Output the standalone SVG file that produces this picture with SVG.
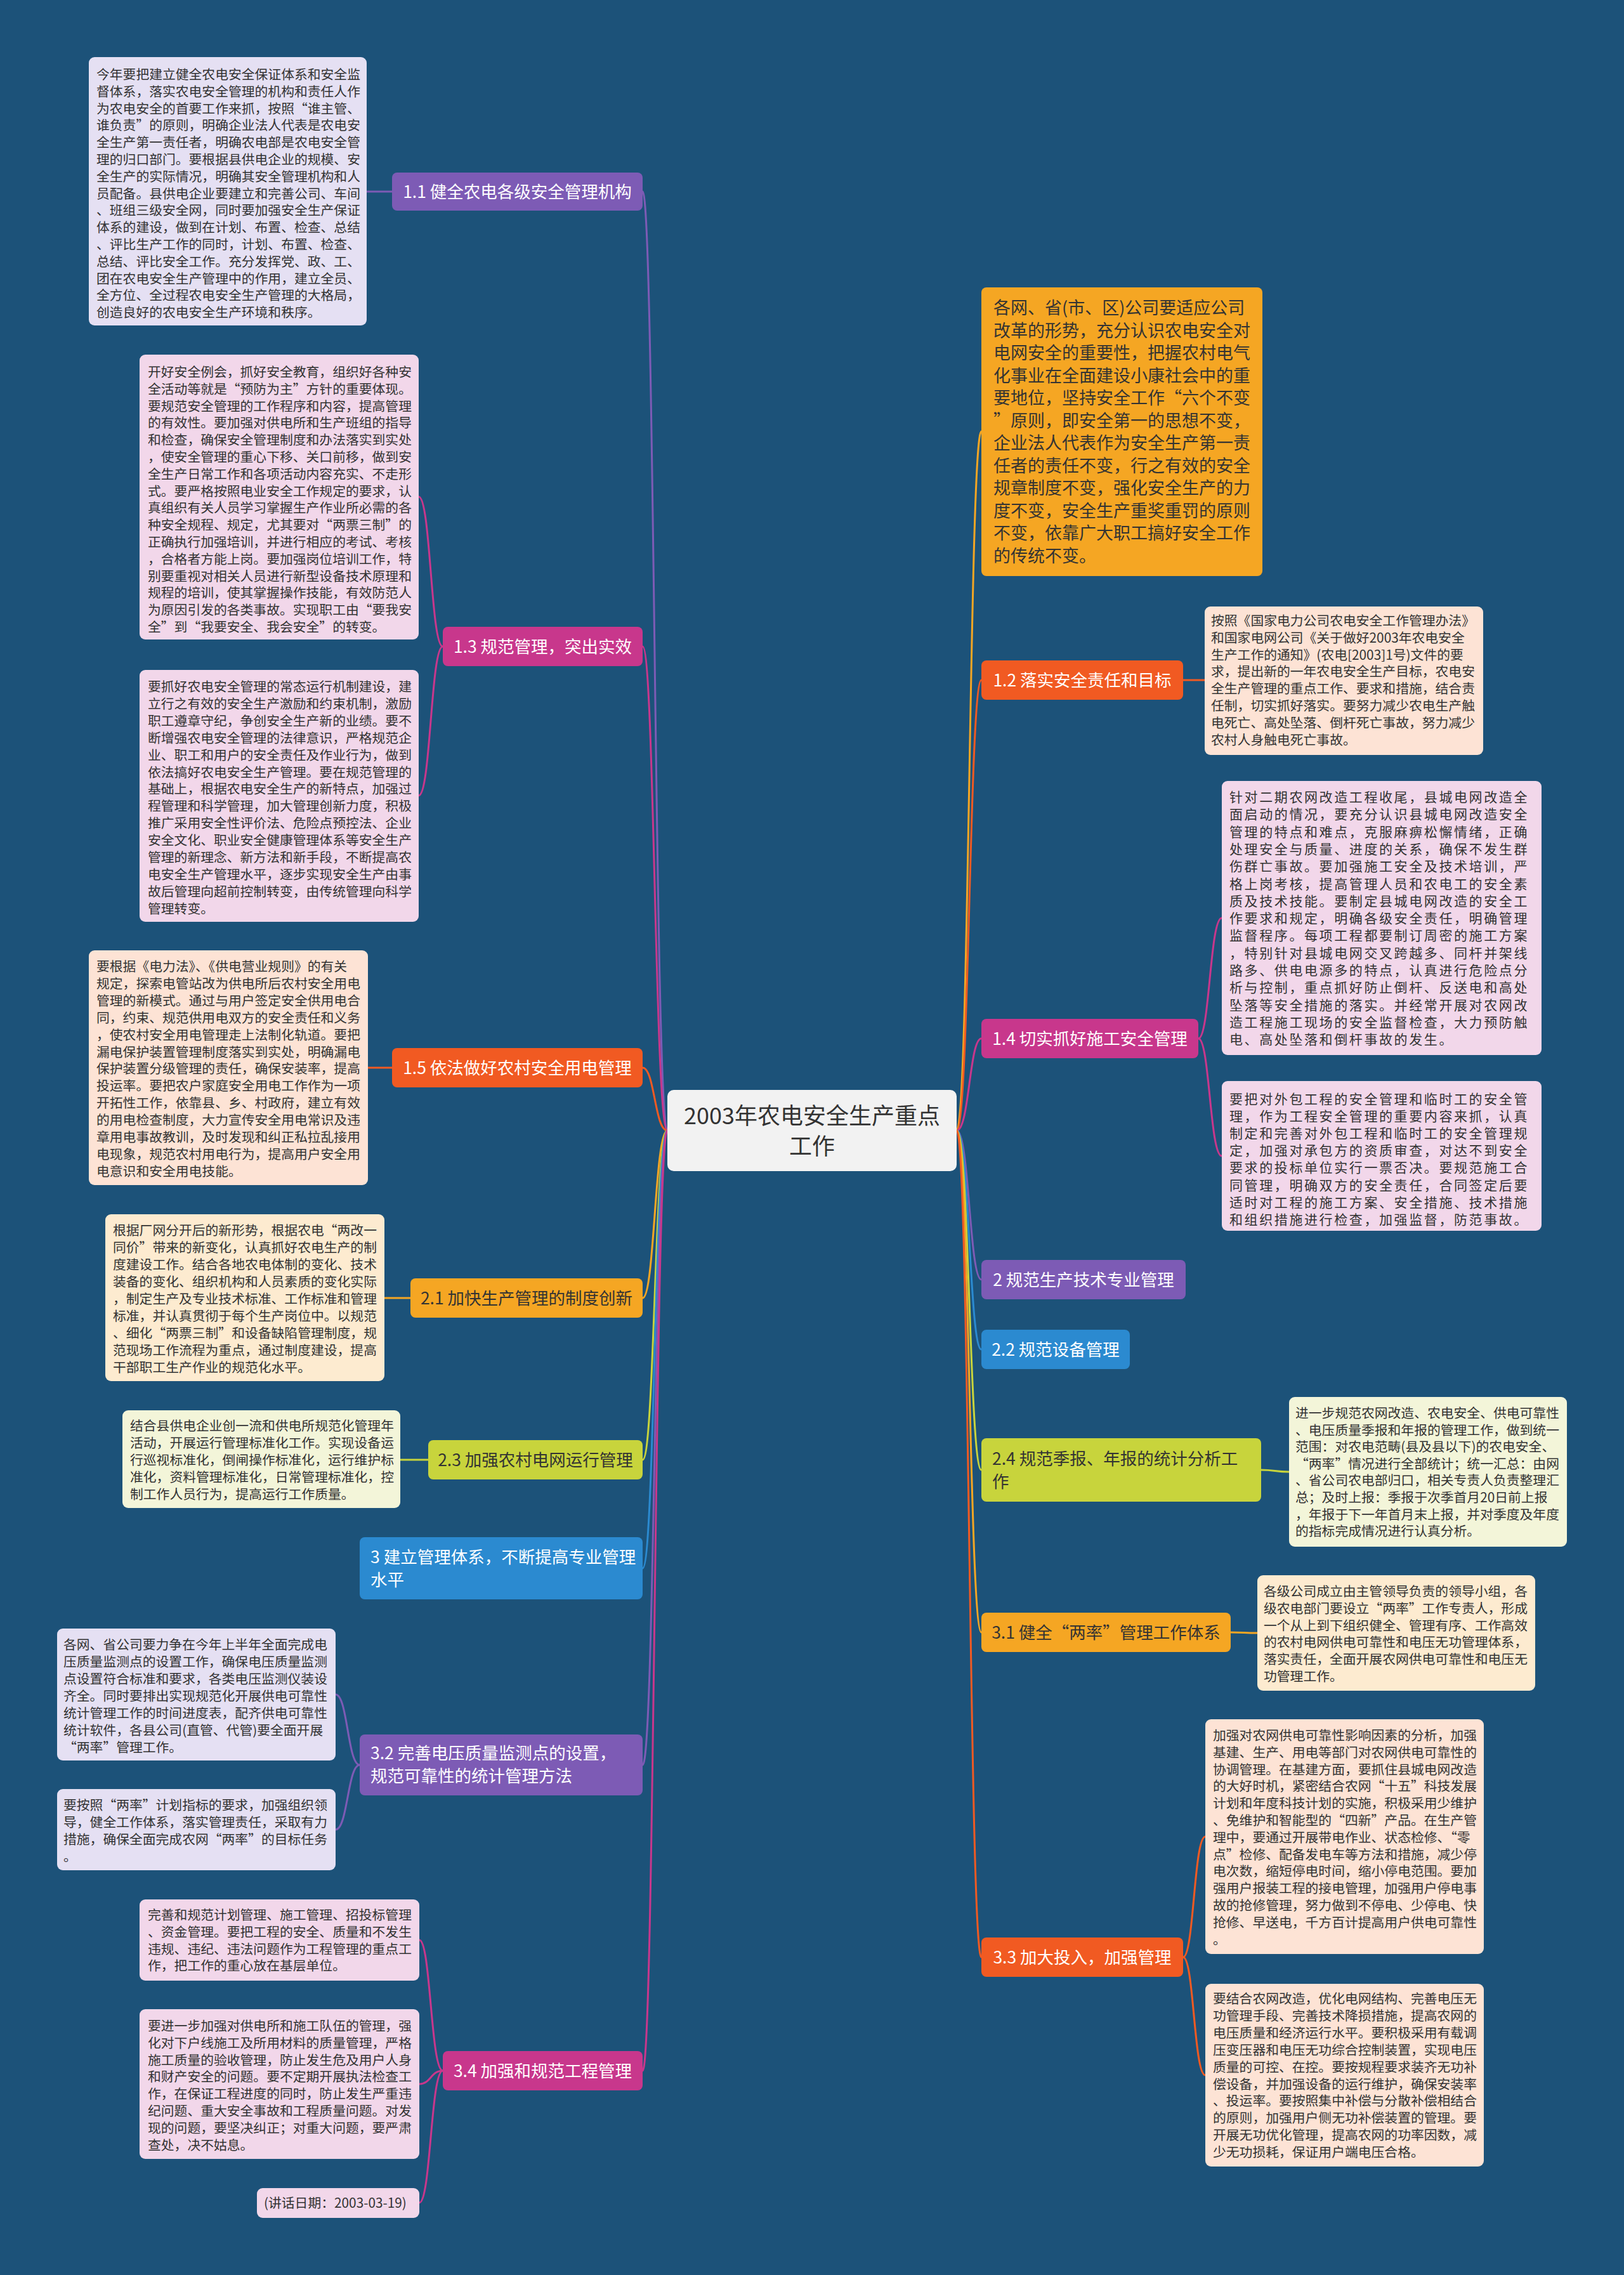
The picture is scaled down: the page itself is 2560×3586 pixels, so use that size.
<svg xmlns="http://www.w3.org/2000/svg" width="2560" height="3586" viewBox="0 0 2560 3586">
<style>
text{font-family:"Noto Sans CJK SC","Noto Sans",sans-serif}
.leaf{font-size:20.8px;fill:#333333}
.wide{font-size:21px;letter-spacing:2.6px;fill:#333333}
.big{font-size:27px;fill:#333333}
.nt{font-size:26.5px;fill:#ffffff}
.nd{font-size:26.5px;fill:#333333}
.c{stroke-width:3;fill:none}
</style>
<rect x="0" y="0" width="2560" height="3586" fill="#1c5279"/>

<g id="connectors">
<path class="c" stroke="#7d5bb5" d="M1052,1782 C1032,1782 1032,302 1013,302"/>
<path class="c" stroke="#c8378c" d="M1052,1782 C1032,1782 1032,1019 1013,1019"/>
<path class="c" stroke="#f15a22" d="M1052,1782 C1032,1782 1032,1683 1013,1683"/>
<path class="c" stroke="#f5a623" d="M1052,1782 C1032,1782 1032,2046 1013,2046"/>
<path class="c" stroke="#c8d43c" d="M1052,1782 C1032,1782 1032,2301 1013,2301"/>
<path class="c" stroke="#2b8ad0" d="M1052,1782 C1032,1782 1032,2472 1013,2472"/>
<path class="c" stroke="#7d5bb5" d="M1052,1782 C1032,1782 1032,2782 1013,2782"/>
<path class="c" stroke="#c8378c" d="M1052,1782 C1032,1782 1032,3264 1013,3264"/>
<path class="c" stroke="#f5a623" d="M1508,1782 C1528,1782 1528,680 1547,680"/>
<path class="c" stroke="#f15a22" d="M1508,1782 C1528,1782 1528,1072 1547,1072"/>
<path class="c" stroke="#c8378c" d="M1508,1782 C1528,1782 1528,1637 1547,1637"/>
<path class="c" stroke="#7d5bb5" d="M1508,1782 C1528,1782 1528,2017 1547,2017"/>
<path class="c" stroke="#2b8ad0" d="M1508,1782 C1528,1782 1528,2127 1547,2127"/>
<path class="c" stroke="#c8d43c" d="M1508,1782 C1528,1782 1528,2317 1547,2317"/>
<path class="c" stroke="#f5a623" d="M1508,1782 C1528,1782 1528,2573 1547,2573"/>
<path class="c" stroke="#f15a22" d="M1508,1782 C1528,1782 1528,3085 1547,3085"/>

<path class="c" stroke="#7d5bb5" d="M618,302 L578,302"/>
<path class="c" stroke="#c8378c" d="M698,1019 C679,1019 679,783 660,783"/>
<path class="c" stroke="#c8378c" d="M698,1019 C679,1019 679,1254 660,1254"/>
<path class="c" stroke="#f15a22" d="M618,1683 L580,1683"/>
<path class="c" stroke="#f5a623" d="M647,2046 L606,2046"/>
<path class="c" stroke="#c8d43c" d="M675,2301 L631,2301"/>
<path class="c" stroke="#7d5bb5" d="M567,2782 C548,2782 548,2671 529,2671"/>
<path class="c" stroke="#7d5bb5" d="M567,2782 C548,2782 548,2884 529,2884"/>
<path class="c" stroke="#c8378c" d="M698,3264 C679,3264 679,3058 661,3058"/>
<path class="c" stroke="#c8378c" d="M698,3264 C679,3264 679,3285 661,3285"/>
<path class="c" stroke="#c8378c" d="M698,3264 C679,3264 679,3472 661,3472"/>

<path class="c" stroke="#f15a22" d="M1865,1072 L1899,1072"/>
<path class="c" stroke="#c8378c" d="M1889,1637 C1907,1637 1907,1447 1926,1447"/>
<path class="c" stroke="#c8378c" d="M1889,1637 C1907,1637 1907,1822 1926,1822"/>
<path class="c" stroke="#c8d43c" d="M1988,2317 C2010,2317 2010,2320 2032,2320"/>
<path class="c" stroke="#f5a623" d="M1940,2573 C1961,2573 1961,2574 1982,2574"/>
<path class="c" stroke="#f15a22" d="M1865,3085 C1882,3085 1882,2895 1900,2895"/>
<path class="c" stroke="#f15a22" d="M1865,3085 C1882,3085 1882,3271 1900,3271"/>
</g>

<g id="center">
<rect x="1052" y="1718" width="456" height="128" rx="10" fill="#f2f2f2"/>
<text x="1280" y="1772" font-size="36" fill="#333333" text-anchor="middle">2003年农电安全生产重点</text>
<text x="1280" y="1820" font-size="36" fill="#333333" text-anchor="middle">工作</text>
</g>

<g id="n1_1"><rect x="618" y="272" width="395" height="60" rx="8" fill="#7d5bb5"/><text class="nt" x="815.5" y="311.5" text-anchor="middle">1.1 健全农电各级安全管理机构</text></g>
<g id="n1_3"><rect x="698" y="988" width="315" height="62" rx="8" fill="#c8378c"/><text class="nt" x="855.5" y="1028.5" text-anchor="middle">1.3 规范管理，突出实效</text></g>
<g id="n1_5"><rect x="618" y="1652" width="395" height="62" rx="8" fill="#f15a22"/><text class="nt" x="815.5" y="1692.5" text-anchor="middle">1.5 依法做好农村安全用电管理</text></g>
<g id="n2_1"><rect x="647" y="2015" width="366" height="62" rx="8" fill="#f5a623"/><text class="nd" x="830" y="2055.5" text-anchor="middle">2.1 加快生产管理的制度创新</text></g>
<g id="n2_3"><rect x="675" y="2270" width="338" height="62" rx="8" fill="#c8d43c"/><text class="nd" x="844" y="2310.5" text-anchor="middle">2.3 加强农村电网运行管理</text></g>
<g id="n3"><rect x="567" y="2423" width="446" height="98" rx="8" fill="#2b8ad0"/><text class="nt" x="584" y="2463.5">3 建立管理体系，不断提高专业管理</text><text class="nt" x="584" y="2499.5">水平</text></g>
<g id="n3_2"><rect x="567" y="2734" width="446" height="96" rx="8" fill="#7d5bb5"/><text class="nt" x="584" y="2773">3.2 完善电压质量监测点的设置，</text><text class="nt" x="584" y="2809">规范可靠性的统计管理方法</text></g>
<g id="n3_4"><rect x="698" y="3233" width="315" height="62" rx="8" fill="#c8378c"/><text class="nt" x="855.5" y="3273.5" text-anchor="middle">3.4 加强和规范工程管理</text></g>

<g id="n_orange"><rect x="1547" y="453" width="443" height="455" rx="8" fill="#f5a623"/>
<text class="big" x="1566" y="495"><tspan x="1566">各网、省(市、区)公司要适应公司</tspan><tspan x="1566" dy="35.5">改革的形势，充分认识农电安全对</tspan><tspan x="1566" dy="35.5">电网安全的重要性，把握农村电气</tspan><tspan x="1566" dy="35.5">化事业在全面建设小康社会中的重</tspan><tspan x="1566" dy="35.5">要地位，坚持安全工作“六个不变</tspan><tspan x="1566" dy="35.5">”原则，即安全第一的思想不变，</tspan><tspan x="1566" dy="35.5">企业法人代表作为安全生产第一责</tspan><tspan x="1566" dy="35.5">任者的责任不变，行之有效的安全</tspan><tspan x="1566" dy="35.5">规章制度不变，强化安全生产的力</tspan><tspan x="1566" dy="35.5">度不变，安全生产重奖重罚的原则</tspan><tspan x="1566" dy="35.5">不变，依靠广大职工搞好安全工作</tspan><tspan x="1566" dy="35.5">的传统不变。</tspan></text></g>
<g id="n1_2"><rect x="1547" y="1041" width="318" height="62" rx="8" fill="#f15a22"/><text class="nt" x="1706" y="1081.5" text-anchor="middle">1.2 落实安全责任和目标</text></g>
<g id="n1_4"><rect x="1547" y="1606" width="342" height="62" rx="8" fill="#c8378c"/><text class="nt" x="1718" y="1646.5" text-anchor="middle">1.4 切实抓好施工安全管理</text></g>
<g id="n2"><rect x="1547" y="1986" width="322" height="62" rx="8" fill="#7d5bb5"/><text class="nt" x="1708" y="2026.5" text-anchor="middle">2 规范生产技术专业管理</text></g>
<g id="n2_2"><rect x="1547" y="2096" width="234" height="62" rx="8" fill="#2b8ad0"/><text class="nt" x="1664" y="2136.5" text-anchor="middle">2.2 规范设备管理</text></g>
<g id="n2_4"><rect x="1547" y="2267" width="441" height="100" rx="8" fill="#c8d43c"/><text class="nd" x="1564" y="2308.5">2.4 规范季报、年报的统计分析工</text><text class="nd" x="1564" y="2344.5">作</text></g>
<g id="n3_1"><rect x="1547" y="2542" width="393" height="62" rx="8" fill="#f5a623"/><text class="nd" x="1743.5" y="2582.5" text-anchor="middle">3.1 健全“两率”管理工作体系</text></g>
<g id="n3_3"><rect x="1547" y="3054" width="318" height="62" rx="8" fill="#f15a22"/><text class="nt" x="1706" y="3094.5" text-anchor="middle">3.3 加大投入，加强管理</text></g>

<g id="l1"><rect x="140" y="90" width="438" height="423" rx="9" fill="#e5e0f3"/>
<text class="leaf" x="152" y="125"><tspan x="152">今年要把建立健全农电安全保证体系和安全监</tspan><tspan x="152" dy="26.8">督体系，落实农电安全管理的机构和责任人作</tspan><tspan x="152" dy="26.8">为农电安全的首要工作来抓，按照“谁主管、</tspan><tspan x="152" dy="26.8">谁负责”的原则，明确企业法人代表是农电安</tspan><tspan x="152" dy="26.8">全生产第一责任者，明确农电部是农电安全管</tspan><tspan x="152" dy="26.8">理的归口部门。要根据县供电企业的规模、安</tspan><tspan x="152" dy="26.8">全生产的实际情况，明确其安全管理机构和人</tspan><tspan x="152" dy="26.8">员配备。县供电企业要建立和完善公司、车间</tspan><tspan x="152" dy="26.8">、班组三级安全网，同时要加强安全生产保证</tspan><tspan x="152" dy="26.8">体系的建设，做到在计划、布置、检查、总结</tspan><tspan x="152" dy="26.8">、评比生产工作的同时，计划、布置、检查、</tspan><tspan x="152" dy="26.8">总结、评比安全工作。充分发挥党、政、工、</tspan><tspan x="152" dy="26.8">团在农电安全生产管理中的作用，建立全员、</tspan><tspan x="152" dy="26.8">全方位、全过程农电安全生产管理的大格局，</tspan><tspan x="152" dy="26.8">创造良好的农电安全生产环境和秩序。</tspan></text></g>

<g id="l2"><rect x="220" y="559" width="440" height="449" rx="9" fill="#f2d7ea"/>
<text class="leaf" x="233" y="594"><tspan x="233">开好安全例会，抓好安全教育，组织好各种安</tspan><tspan x="233" dy="26.8">全活动等就是“预防为主”方针的重要体现。</tspan><tspan x="233" dy="26.8">要规范安全管理的工作程序和内容，提高管理</tspan><tspan x="233" dy="26.8">的有效性。要加强对供电所和生产班组的指导</tspan><tspan x="233" dy="26.8">和检查，确保安全管理制度和办法落实到实处</tspan><tspan x="233" dy="26.8">，使安全管理的重心下移、关口前移，做到安</tspan><tspan x="233" dy="26.8">全生产日常工作和各项活动内容充实、不走形</tspan><tspan x="233" dy="26.8">式。要严格按照电业安全工作规定的要求，认</tspan><tspan x="233" dy="26.8">真组织有关人员学习掌握生产作业所必需的各</tspan><tspan x="233" dy="26.8">种安全规程、规定，尤其要对“两票三制”的</tspan><tspan x="233" dy="26.8">正确执行加强培训，并进行相应的考试、考核</tspan><tspan x="233" dy="26.8">，合格者方能上岗。要加强岗位培训工作，特</tspan><tspan x="233" dy="26.8">别要重视对相关人员进行新型设备技术原理和</tspan><tspan x="233" dy="26.8">规程的培训，使其掌握操作技能，有效防范人</tspan><tspan x="233" dy="26.8">为原因引发的各类事故。实现职工由“要我安</tspan><tspan x="233" dy="26.8">全”到“我要安全、我会安全”的转变。</tspan></text></g>

<g id="l3"><rect x="220" y="1056" width="440" height="397" rx="9" fill="#f2d7ea"/>
<text class="leaf" x="233" y="1090"><tspan x="233">要抓好农电安全管理的常态运行机制建设，建</tspan><tspan x="233" dy="26.9">立行之有效的安全生产激励和约束机制，激励</tspan><tspan x="233" dy="26.9">职工遵章守纪，争创安全生产新的业绩。要不</tspan><tspan x="233" dy="26.9">断增强农电安全管理的法律意识，严格规范企</tspan><tspan x="233" dy="26.9">业、职工和用户的安全责任及作业行为，做到</tspan><tspan x="233" dy="26.9">依法搞好农电安全生产管理。要在规范管理的</tspan><tspan x="233" dy="26.9">基础上，根据农电安全生产的新特点，加强过</tspan><tspan x="233" dy="26.9">程管理和科学管理，加大管理创新力度，积极</tspan><tspan x="233" dy="26.9">推广采用安全性评价法、危险点预控法、企业</tspan><tspan x="233" dy="26.9">安全文化、职业安全健康管理体系等安全生产</tspan><tspan x="233" dy="26.9">管理的新理念、新方法和新手段，不断提高农</tspan><tspan x="233" dy="26.9">电安全生产管理水平，逐步实现安全生产由事</tspan><tspan x="233" dy="26.9">故后管理向超前控制转变，由传统管理向科学</tspan><tspan x="233" dy="26.9">管理转变。</tspan></text></g>

<g id="l4"><rect x="140" y="1498" width="440" height="370" rx="9" fill="#fde3d5"/>
<text class="leaf" x="152" y="1531"><tspan x="152">要根据《电力法》、《供电营业规则》的有关</tspan><tspan x="152" dy="26.9">规定，探索电管站改为供电所后农村安全用电</tspan><tspan x="152" dy="26.9">管理的新模式。通过与用户签定安全供用电合</tspan><tspan x="152" dy="26.9">同，约束、规范供用电双方的安全责任和义务</tspan><tspan x="152" dy="26.9">，使农村安全用电管理走上法制化轨道。要把</tspan><tspan x="152" dy="26.9">漏电保护装置管理制度落实到实处，明确漏电</tspan><tspan x="152" dy="26.9">保护装置分级管理的责任，确保安装率，提高</tspan><tspan x="152" dy="26.9">投运率。要把农户家庭安全用电工作作为一项</tspan><tspan x="152" dy="26.9">开拓性工作，依靠县、乡、村政府，建立有效</tspan><tspan x="152" dy="26.9">的用电检查制度，大力宣传安全用电常识及违</tspan><tspan x="152" dy="26.9">章用电事故教训，及时发现和纠正私拉乱接用</tspan><tspan x="152" dy="26.9">电现象，规范农村用电行为，提高用户安全用</tspan><tspan x="152" dy="26.9">电意识和安全用电技能。</tspan></text></g>

<g id="l5"><rect x="166" y="1914" width="440" height="263" rx="9" fill="#fdebd0"/>
<text class="leaf" x="178" y="1947"><tspan x="178">根据厂网分开后的新形势，根据农电“两改一</tspan><tspan x="178" dy="27">同价”带来的新变化，认真抓好农电生产的制</tspan><tspan x="178" dy="27">度建设工作。结合各地农电体制的变化、技术</tspan><tspan x="178" dy="27">装备的变化、组织机构和人员素质的变化实际</tspan><tspan x="178" dy="27">，制定生产及专业技术标准、工作标准和管理</tspan><tspan x="178" dy="27">标准，并认真贯彻于每个生产岗位中。以规范</tspan><tspan x="178" dy="27">、细化“两票三制”和设备缺陷管理制度，规</tspan><tspan x="178" dy="27">范现场工作流程为重点，通过制度建设，提高</tspan><tspan x="178" dy="27">干部职工生产作业的规范化水平。</tspan></text></g>

<g id="l6"><rect x="193" y="2223" width="438" height="154" rx="9" fill="#f3f5d9"/>
<text class="leaf" x="205" y="2255"><tspan x="205">结合县供电企业创一流和供电所规范化管理年</tspan><tspan x="205" dy="27">活动，开展运行管理标准化工作。实现设备运</tspan><tspan x="205" dy="27">行巡视标准化，倒闸操作标准化，运行维护标</tspan><tspan x="205" dy="27">准化，资料管理标准化，日常管理标准化，控</tspan><tspan x="205" dy="27">制工作人员行为，提高运行工作质量。</tspan></text></g>

<g id="l7"><rect x="90" y="2567" width="439" height="208" rx="9" fill="#e5e0f3"/>
<text class="leaf" x="100" y="2600"><tspan x="100">各网、省公司要力争在今年上半年全面完成电</tspan><tspan x="100" dy="27">压质量监测点的设置工作，确保电压质量监测</tspan><tspan x="100" dy="27">点设置符合标准和要求，各类电压监测仪装设</tspan><tspan x="100" dy="27">齐全。同时要排出实现规范化开展供电可靠性</tspan><tspan x="100" dy="27">统计管理工作的时间进度表，配齐供电可靠性</tspan><tspan x="100" dy="27">统计软件，各县公司(直管、代管)要全面开展</tspan><tspan x="100" dy="27">“两率”管理工作。</tspan></text></g>

<g id="l8"><rect x="90" y="2820" width="439" height="128" rx="9" fill="#e5e0f3"/>
<text class="leaf" x="100" y="2853"><tspan x="100">要按照“两率”计划指标的要求，加强组织领</tspan><tspan x="100" dy="27">导，健全工作体系，落实管理责任，采取有力</tspan><tspan x="100" dy="27">措施，确保全面完成农网“两率”的目标任务</tspan><tspan x="100" dy="27">。</tspan></text></g>

<g id="l9"><rect x="220" y="2994" width="441" height="128" rx="9" fill="#f2d7ea"/>
<text class="leaf" x="233" y="3026"><tspan x="233">完善和规范计划管理、施工管理、招投标管理</tspan><tspan x="233" dy="26.8">、资金管理。要把工程的安全、质量和不发生</tspan><tspan x="233" dy="26.8">违规、违纪、违法问题作为工程管理的重点工</tspan><tspan x="233" dy="26.8">作，把工作的重心放在基层单位。</tspan></text></g>

<g id="l10"><rect x="220" y="3167" width="441" height="236" rx="9" fill="#f2d7ea"/>
<text class="leaf" x="233" y="3201"><tspan x="233">要进一步加强对供电所和施工队伍的管理，强</tspan><tspan x="233" dy="26.8">化对下户线施工及所用材料的质量管理，严格</tspan><tspan x="233" dy="26.8">施工质量的验收管理，防止发生危及用户人身</tspan><tspan x="233" dy="26.8">和财产安全的问题。要不定期开展执法检查工</tspan><tspan x="233" dy="26.8">作，在保证工程进度的同时，防止发生严重违</tspan><tspan x="233" dy="26.8">纪问题、重大安全事故和工程质量问题。对发</tspan><tspan x="233" dy="26.8">现的问题，要坚决纠正；对重大问题，要严肃</tspan><tspan x="233" dy="26.8">查处，决不姑息。</tspan></text></g>

<g id="l11"><rect x="405" y="3449" width="256" height="47" rx="9" fill="#f2d7ea"/>
<text class="leaf" x="416" y="3480">(讲话日期：2003-03-19)</text></g>

<g id="r1"><rect x="1899" y="956" width="439" height="234" rx="9" fill="#fde3d5"/>
<text class="leaf" x="1909" y="986"><tspan x="1909">按照《国家电力公司农电安全工作管理办法》</tspan><tspan x="1909" dy="26.8">和国家电网公司《关于做好2003年农电安全</tspan><tspan x="1909" dy="26.8">生产工作的通知》(农电[2003]1号)文件的要</tspan><tspan x="1909" dy="26.8">求，提出新的一年农电安全生产目标，农电安</tspan><tspan x="1909" dy="26.8">全生产管理的重点工作、要求和措施，结合责</tspan><tspan x="1909" dy="26.8">任制，切实抓好落实。要努力减少农电生产触</tspan><tspan x="1909" dy="26.8">电死亡、高处坠落、倒杆死亡事故，努力减少</tspan><tspan x="1909" dy="26.8">农村人身触电死亡事故。</tspan></text></g>

<g id="r2"><rect x="1926" y="1231" width="504" height="432" rx="9" fill="#f2d7ea"/>
<text class="wide" x="1938" y="1264"><tspan x="1938">针对二期农网改造工程收尾，县城电网改造全</tspan><tspan x="1938" dy="27.3">面启动的情况，要充分认识县城电网改造安全</tspan><tspan x="1938" dy="27.3">管理的特点和难点，克服麻痹松懈情绪，正确</tspan><tspan x="1938" dy="27.3">处理安全与质量、进度的关系，确保不发生群</tspan><tspan x="1938" dy="27.3">伤群亡事故。要加强施工安全及技术培训，严</tspan><tspan x="1938" dy="27.3">格上岗考核，提高管理人员和农电工的安全素</tspan><tspan x="1938" dy="27.3">质及技术技能。要制定县城电网改造的安全工</tspan><tspan x="1938" dy="27.3">作要求和规定，明确各级安全责任，明确管理</tspan><tspan x="1938" dy="27.3">监督程序。每项工程都要制订周密的施工方案</tspan><tspan x="1938" dy="27.3">，特别针对县城电网交叉跨越多、同杆并架线</tspan><tspan x="1938" dy="27.3">路多、供电电源多的特点，认真进行危险点分</tspan><tspan x="1938" dy="27.3">析与控制，重点抓好防止倒杆、反送电和高处</tspan><tspan x="1938" dy="27.3">坠落等安全措施的落实。并经常开展对农网改</tspan><tspan x="1938" dy="27.3">造工程施工现场的安全监督检查，大力预防触</tspan><tspan x="1938" dy="27.3">电、高处坠落和倒杆事故的发生。</tspan></text></g>

<g id="r3"><rect x="1926" y="1704" width="504" height="236" rx="9" fill="#f2d7ea"/>
<text class="wide" x="1938" y="1740"><tspan x="1938">要把对外包工程的安全管理和临时工的安全管</tspan><tspan x="1938" dy="27.1">理，作为工程安全管理的重要内容来抓，认真</tspan><tspan x="1938" dy="27.1">制定和完善对外包工程和临时工的安全管理规</tspan><tspan x="1938" dy="27.1">定，加强对承包方的资质审查，对达不到安全</tspan><tspan x="1938" dy="27.1">要求的投标单位实行一票否决。要规范施工合</tspan><tspan x="1938" dy="27.1">同管理，明确双方的安全责任，合同签定后要</tspan><tspan x="1938" dy="27.1">适时对工程的施工方案、安全措施、技术措施</tspan><tspan x="1938" dy="27.1">和组织措施进行检查，加强监督，防范事故。</tspan></text></g>

<g id="r4"><rect x="2032" y="2202" width="438" height="236" rx="9" fill="#f3f5d9"/>
<text class="leaf" x="2042" y="2235"><tspan x="2042">进一步规范农网改造、农电安全、供电可靠性</tspan><tspan x="2042" dy="26.6">、电压质量季报和年报的管理工作，做到统一</tspan><tspan x="2042" dy="26.6">范围：对农电范畴(县及县以下)的农电安全、</tspan><tspan x="2042" dy="26.6">“两率”情况进行全部统计；统一汇总：由网</tspan><tspan x="2042" dy="26.6">、省公司农电部归口，相关专责人负责整理汇</tspan><tspan x="2042" dy="26.6">总；及时上报：季报于次季首月20日前上报</tspan><tspan x="2042" dy="26.6">，年报于下一年首月末上报，并对季度及年度</tspan><tspan x="2042" dy="26.6">的指标完成情况进行认真分析。</tspan></text></g>

<g id="r5"><rect x="1982" y="2483" width="438" height="182" rx="9" fill="#fdebd0"/>
<text class="leaf" x="1992" y="2516"><tspan x="1992">各级公司成立由主管领导负责的领导小组，各</tspan><tspan x="1992" dy="26.8">级农电部门要设立“两率”工作专责人，形成</tspan><tspan x="1992" dy="26.8">一个从上到下组织健全、管理有序、工作高效</tspan><tspan x="1992" dy="26.8">的农村电网供电可靠性和电压无功管理体系，</tspan><tspan x="1992" dy="26.8">落实责任，全面开展农网供电可靠性和电压无</tspan><tspan x="1992" dy="26.8">功管理工作。</tspan></text></g>

<g id="r6"><rect x="1900" y="2710" width="439" height="370" rx="9" fill="#fde3d5"/>
<text class="leaf" x="1912" y="2743"><tspan x="1912">加强对农网供电可靠性影响因素的分析，加强</tspan><tspan x="1912" dy="26.8">基建、生产、用电等部门对农网供电可靠性的</tspan><tspan x="1912" dy="26.8">协调管理。在基建方面，要抓住县城电网改造</tspan><tspan x="1912" dy="26.8">的大好时机，紧密结合农网“十五”科技发展</tspan><tspan x="1912" dy="26.8">计划和年度科技计划的实施，积极采用少维护</tspan><tspan x="1912" dy="26.8">、免维护和智能型的“四新”产品。在生产管</tspan><tspan x="1912" dy="26.8">理中，要通过开展带电作业、状态检修、“零</tspan><tspan x="1912" dy="26.8">点”检修、配备发电车等方法和措施，减少停</tspan><tspan x="1912" dy="26.8">电次数，缩短停电时间，缩小停电范围。要加</tspan><tspan x="1912" dy="26.8">强用户报装工程的接电管理，加强用户停电事</tspan><tspan x="1912" dy="26.8">故的抢修管理，努力做到不停电、少停电、快</tspan><tspan x="1912" dy="26.8">抢修、早送电，千方百计提高用户供电可靠性</tspan><tspan x="1912" dy="26.8">。</tspan></text></g>

<g id="r7"><rect x="1900" y="3127" width="439" height="288" rx="9" fill="#fde3d5"/>
<text class="leaf" x="1912" y="3158"><tspan x="1912">要结合农网改造，优化电网结构、完善电压无</tspan><tspan x="1912" dy="26.9">功管理手段、完善技术降损措施，提高农网的</tspan><tspan x="1912" dy="26.9">电压质量和经济运行水平。要积极采用有载调</tspan><tspan x="1912" dy="26.9">压变压器和电压无功综合控制装置，实现电压</tspan><tspan x="1912" dy="26.9">质量的可控、在控。要按规程要求装齐无功补</tspan><tspan x="1912" dy="26.9">偿设备，并加强设备的运行维护，确保安装率</tspan><tspan x="1912" dy="26.9">、投运率。要按照集中补偿与分散补偿相结合</tspan><tspan x="1912" dy="26.9">的原则，加强用户侧无功补偿装置的管理。要</tspan><tspan x="1912" dy="26.9">开展无功优化管理，提高农网的功率因数，减</tspan><tspan x="1912" dy="26.9">少无功损耗，保证用户端电压合格。</tspan></text></g>
</svg>
